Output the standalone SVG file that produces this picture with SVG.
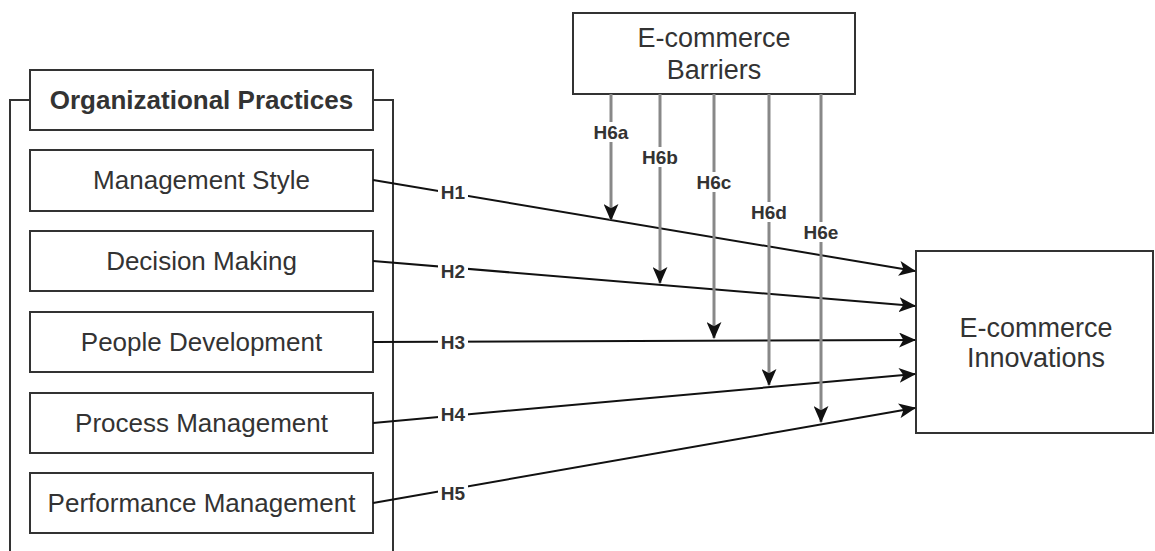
<svg xmlns="http://www.w3.org/2000/svg" width="1155" height="551" viewBox="0 0 1155 551">
<defs>
<style>
.box{fill:#fff;stroke:#333;stroke-width:2}
.t{font-family:"Liberation Sans",Arial,sans-serif;font-size:26px;fill:#333;text-anchor:middle}
.tb{font-weight:bold}
.big{font-size:27px}
.lbl{font-family:"Liberation Sans",Arial,sans-serif;font-size:19px;font-weight:bold;fill:#333;text-anchor:middle}
.main{stroke:#111;stroke-width:2;fill:none;marker-end:url(#ah)}
.mod{stroke:#888;stroke-width:3;fill:none;marker-end:url(#ah)}
.lb{fill:#fff}
</style>
<marker id="ah" viewBox="0 0 16 14" refX="15" refY="7" markerWidth="17" markerHeight="15" markerUnits="userSpaceOnUse" orient="auto">
<path d="M0,0 L16,7 L0,14 L4,7 Z" fill="#111"/>
</marker>
</defs>
<rect width="1155" height="551" fill="#fff"/>

<g id="container">
<rect x="10" y="100" width="383" height="520" fill="none" stroke="#333" stroke-width="2"/>
</g>
<g id="org-practices">
<rect class="box" x="30" y="70" width="343" height="60"/>
<text class="t tb" x="201.5" y="109">Organizational Practices</text>
</g>
<g id="management-style">
<rect class="box" x="30" y="150" width="343" height="61"/>
<text class="t" x="201.5" y="189">Management Style</text>
</g>
<g id="decision-making">
<rect class="box" x="30" y="231" width="343" height="60"/>
<text class="t" x="201.5" y="270">Decision Making</text>
</g>
<g id="people-development">
<rect class="box" x="30" y="312" width="343" height="60"/>
<text class="t" x="201.5" y="351">People Development</text>
</g>
<g id="process-management">
<rect class="box" x="30" y="393" width="343" height="60"/>
<text class="t" x="201.5" y="432">Process Management</text>
</g>
<g id="performance-management">
<rect class="box" x="30" y="473" width="343" height="60"/>
<text class="t" x="201.5" y="512">Performance Management</text>
</g>
<g id="barriers">
<rect class="box" x="573" y="13" width="282" height="81"/>
<text class="t big" x="714" y="47">E-commerce</text>
<text class="t big" x="714" y="79">Barriers</text>
</g>
<g id="innovations">
<rect class="box" x="916" y="251" width="237" height="182"/>
<text class="t big" x="1036" y="337">E-commerce</text>
<text class="t big" x="1036" y="367">Innovations</text>
</g>

<g id="connectors">
<line class="main" x1="373" y1="180" x2="915" y2="271"/>
<line class="main" x1="373" y1="261" x2="915" y2="306"/>
<line class="main" x1="373" y1="342" x2="915" y2="340"/>
<line class="main" x1="373" y1="423" x2="915" y2="374"/>
<line class="main" x1="373" y1="503" x2="915" y2="408"/>
<line class="mod" x1="611" y1="94" x2="611" y2="220"/>
<line class="mod" x1="660" y1="94" x2="660" y2="283"/>
<line class="mod" x1="714" y1="94" x2="714" y2="338"/>
<line class="mod" x1="769" y1="94" x2="769" y2="385"/>
<line class="mod" x1="821" y1="94" x2="821" y2="422"/>
<g id="labels">
<rect class="lb" x="438" y="182" width="30" height="20"/><text class="lbl" x="453" y="199">H1</text>
<rect class="lb" x="438" y="261" width="30" height="20"/><text class="lbl" x="453" y="278">H2</text>
<rect class="lb" x="438" y="332" width="30" height="20"/><text class="lbl" x="453" y="349">H3</text>
<rect class="lb" x="438" y="404" width="30" height="20"/><text class="lbl" x="453" y="421">H4</text>
<rect class="lb" x="438" y="483" width="30" height="20"/><text class="lbl" x="453" y="500">H5</text>
<rect class="lb" x="591" y="122" width="40" height="20"/><text class="lbl" x="611" y="139">H6a</text>
<rect class="lb" x="640" y="147" width="40" height="20"/><text class="lbl" x="660" y="164">H6b</text>
<rect class="lb" x="694" y="172" width="40" height="20"/><text class="lbl" x="714" y="189">H6c</text>
<rect class="lb" x="749" y="202" width="40" height="20"/><text class="lbl" x="769" y="219">H6d</text>
<rect class="lb" x="801" y="222" width="40" height="20"/><text class="lbl" x="821" y="239">H6e</text>
</g>
</g>
</svg>
